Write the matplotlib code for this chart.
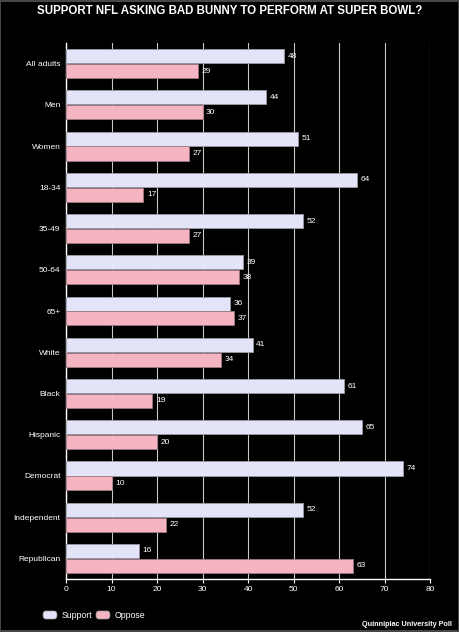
import matplotlib
matplotlib.use("Agg")
import matplotlib.pyplot as plt
from matplotlib.patches import Rectangle, FancyBboxPatch
import numpy as np

categories = ["All adults", "Men", "Women", "18-34", "35-49", "50-64", "65+",
              "White", "Black", "Hispanic", "Democrat", "Independent", "Republican"]
support = [48, 44, 51, 64, 52, 39, 36, 41, 61, 65, 74, 52, 16]
oppose = [29, 30, 27, 17, 27, 38, 37, 34, 19, 20, 10, 22, 63]
xticks = [0, 10, 20, 30, 40, 50, 60, 70, 80]
series_names = ["Support", "Oppose"]
series_colors = ['#e4e4f8', '#f4b4c2']

plt.rcParams['font.family'] = ['Liberation Sans', 'DejaVu Sans']

W, H = 459, 632
fig = plt.figure(figsize=(W/100, H/100), dpi=100, facecolor='black')
ax = fig.add_axes([66/W, 1-579/H, (430-66)/W, (579-43)/H])
ax.set_facecolor('black')

y = np.arange(len(categories))
h = 0.34
ax.barh(y - 0.18, support, height=h, color=series_colors[0], edgecolor='#9a9aa8', linewidth=0.6, zorder=3)
ax.barh(y + 0.18, oppose, height=h, color=series_colors[1], edgecolor='#a07880', linewidth=0.6, zorder=3)

for i in range(len(categories)):
    ax.text(support[i] + 0.8, y[i] - 0.18, str(support[i]), color='white', fontsize=6, va='center', ha='left')
    ax.text(oppose[i] + 0.8, y[i] + 0.18, str(oppose[i]), color='white', fontsize=6, va='center', ha='left')

ax.set_ylim(len(categories) - 0.5, -0.5)
ax.set_xlim(0, 80)
ax.set_xticks(xticks)
ax.set_xticklabels([str(t) for t in xticks], color='white', fontsize=6)
ax.set_yticks(y)
ax.set_yticklabels(categories, color='white', fontsize=6)
ax.tick_params(axis='y', length=0, pad=4)
ax.tick_params(axis='x', length=3, color='white', pad=2)
ax.grid(axis='x', color='#c8c8c8', linewidth=0.8, zorder=0)
for s in ['top', 'right']:
    ax.spines[s].set_visible(False)
for s in ['left', 'bottom']:
    ax.spines[s].set_color('white')
    ax.spines[s].set_linewidth(1.0)

fig.text(0.5, 1-11/H, 'SUPPORT NFL ASKING BAD BUNNY TO PERFORM AT SUPER BOWL?',
         color='white', fontsize=8.3, fontweight='bold', ha='center', va='center')

# legend drawn with rounded swatches
legend_x = [43, 96]
for name, col, lx in zip(series_names, series_colors, legend_x):
    fig.patches.append(FancyBboxPatch((lx/W, 1-619/H), 14/W, 8/H,
                                      boxstyle='round,pad=0,rounding_size=0.006',
                                      transform=fig.transFigure, facecolor=col,
                                      edgecolor='#999999', linewidth=0.5))
    fig.text((lx+19)/W, 1-615/H, name, color='white', fontsize=6.3, ha='left', va='center')

fig.text(1-7/W, 1-625/H, 'Quinnipiac University Poll', color='white', fontsize=5.2,
         fontweight='bold', ha='right', va='center')

fig.patches.append(Rectangle((0.001, 0.001), 0.998, 0.998, transform=fig.transFigure,
                             fill=False, edgecolor='#555555', linewidth=1.2))

fig.savefig('out.png', dpi=100, facecolor='black')
